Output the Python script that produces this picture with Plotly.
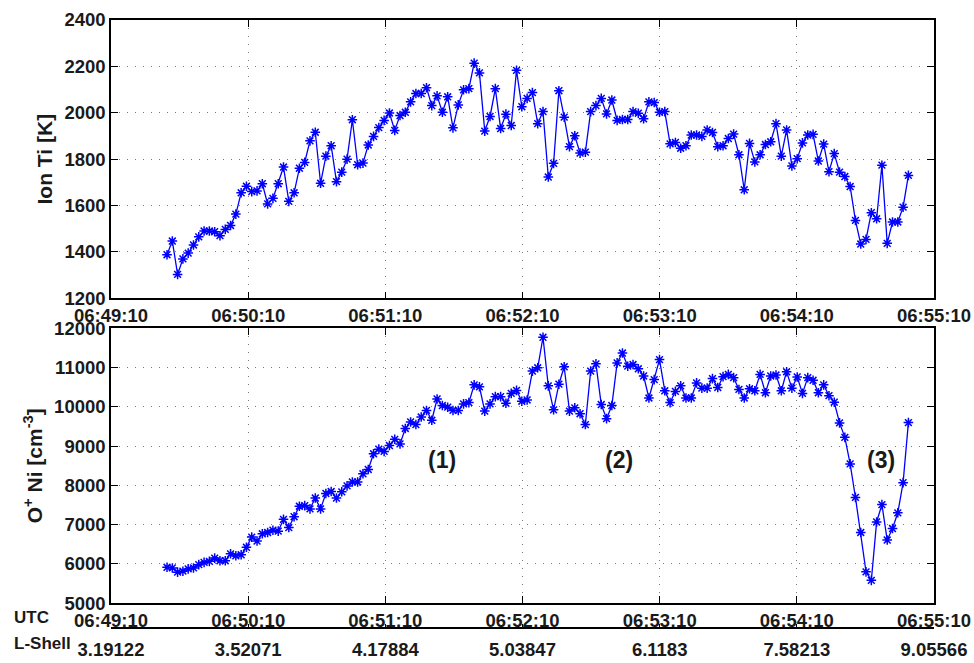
import plotly.graph_objects as go
import pandas as pd

# ---- data ----
ion_ti = [1388, 1447, 1303, 1370, 1395, 1430, 1465, 1490, 1490, 1487,
          1470, 1497, 1514, 1563, 1655, 1683, 1660, 1663, 1694, 1607,
          1631, 1694, 1766, 1618, 1655, 1761, 1786, 1879, 1916, 1696,
          1813, 1858, 1703, 1744, 1800, 1970, 1776, 1783, 1861, 1898,
          1936, 1967, 1999, 1924, 1988, 2002, 2047, 2083, 2083, 2108,
          2031, 2073, 2002, 2069, 1935, 2034, 2099, 2104, 2214, 2172,
          1921, 1984, 2104, 1932, 1994, 1945, 2183, 2026, 2062, 2087,
          1953, 2005, 1723, 1782, 2095, 1981, 1854, 1901, 1826, 1830,
          2005, 2031, 2062, 1995, 2055, 1967, 1971, 1971, 2005, 1998,
          1974, 2047, 2044, 2002, 2005, 1866, 1872, 1847, 1858, 1904,
          1904, 1898, 1926, 1915, 1854, 1858, 1889, 1908, 1819, 1668,
          1868, 1788, 1819, 1863, 1875, 1953, 1813, 1926, 1771, 1802,
          1870, 1904, 1907, 1792, 1865, 1746, 1824, 1744, 1725, 1682,
          1536, 1434, 1454, 1569, 1543, 1774, 1437, 1529, 1529, 1593,
          1730]

o_ni = [5913, 5896, 5788, 5813, 5871, 5896, 5980, 6038, 6064, 6147,
        6080, 6080, 6256, 6206, 6231, 6423, 6682, 6582, 6766, 6799,
        6858, 6833, 7134, 6925, 7201, 7468, 7485, 7401, 7677, 7401,
        7794, 7844, 7677, 7836, 7987, 8087, 8087, 8296, 8405, 8806,
        8923, 8865, 9015, 9174, 9057, 9450, 9617, 9550, 9742, 9910,
        9659, 10202, 10035, 9993, 9910, 9910, 10077, 10110, 10562, 10512,
        9893, 10077, 10261, 10261, 10094, 10344, 10420, 10144, 10177, 10913,
        10997, 11774, 10537, 9926, 10579, 11022, 9893, 9977, 9826, 9550,
        10913, 11097, 10060, 9701, 10035, 11122, 11373, 11038, 11080, 10972,
        10788, 10227, 10696, 11206, 10411, 10110, 10395, 10537, 10227, 10227,
        10612, 10478, 10478, 10721, 10495, 10771, 10829, 10746, 10445, 10227,
        10462, 10411, 10829, 10361, 10788, 10813, 10411, 10896, 10478, 10763,
        10344, 10746, 10679, 10361, 10562, 10286, 10119, 9592, 9224, 8547,
        7694, 6799, 5796, 5579, 7067, 7510, 6607, 6900, 7301, 8070,
        9600]

day = "2000-01-01 "
t_first = day + "06:49:34.5"
t_last = day + "06:54:58.8"
times = pd.date_range(t_first, t_last, periods=len(ion_ti))

utc_ticks = ["06:49:10", "06:50:10", "06:51:10", "06:52:10",
             "06:53:10", "06:54:10", "06:55:10"]
lshell_ticks = ["3.19122", "3.52071", "4.17884", "5.03847",
                "6.1183", "7.58213", "9.05566"]
ti_ticks = [1200, 1400, 1600, 1800, 2000, 2200, 2400]
ni_ticks = [5000, 6000, 7000, 8000, 9000, 10000, 11000, 12000]
region_labels = ["(1)", "(2)", "(3)"]
region_times = ["06:51:35", "06:52:52", "06:54:47"]
region_value = 8650

tick_dates = [day + t for t in utc_ticks]
x_range = [day + utc_ticks[0], day + utc_ticks[-1]]

FONT = "Liberation Sans"
BLUE = "#0000ff"
INK = "#1a1a1a"
tickfont = dict(family=FONT, size=18.5, color=INK, weight="bold")

fig = go.Figure()
line_style = dict(color=BLUE, width=1.3)
marker_style = dict(symbol="asterisk-open", size=8,
                    line=dict(color=BLUE, width=1.5), color=BLUE)

fig.add_trace(go.Scatter(x=times, y=ion_ti, mode="lines+markers",
                         line=line_style, marker=marker_style,
                         xaxis="x", yaxis="y", showlegend=False))
fig.add_trace(go.Scatter(x=times, y=o_ni, mode="lines+markers",
                         line=line_style, marker=marker_style,
                         xaxis="x2", yaxis="y2", showlegend=False))
# invisible copy on the L-Shell axis so that this free axis is drawn
fig.add_trace(go.Scatter(x=times, y=o_ni, mode="none", xaxis="x3",
                         yaxis="y2", showlegend=False, hoverinfo="skip"))

common_x = dict(type="date", range=x_range, tickvals=tick_dates,
                ticktext=utc_ticks, ticks="inside", ticklen=7,
                tickcolor="black", tickwidth=1, showline=True,
                linecolor="black", linewidth=1.5, mirror="ticks",
                showgrid=True, gridcolor="#7a7a7a", gridwidth=1,
                griddash="1px,7px", zeroline=False, tickfont=tickfont)
common_y = dict(ticks="inside", ticklen=7, tickcolor="black", tickwidth=1,
                showline=True, linecolor="black", linewidth=1.5,
                mirror="ticks", showgrid=True, gridcolor="#7a7a7a",
                gridwidth=1, griddash="1px,7px", zeroline=False,
                tickformat="d", tickfont=tickfont)

H = 663
T = 20
B = 0
ph = H - T - B


def py(pix):
    return (H - B - pix) / ph


titlefont = dict(family=FONT, size=21, color=INK, weight="bold")
lshell_line_y = py(637.3)

fig.update_layout(
    width=974, height=H,
    margin=dict(l=111, r=40, t=T, b=B),
    paper_bgcolor="white", plot_bgcolor="white",
    xaxis=dict(common_x, domain=[0, 1], anchor="y"),
    yaxis=dict(common_y, domain=[py(302.7), py(20)], range=[1200, 2400],
               tickvals=ti_ticks, anchor="x",
               title=dict(text="Ion Ti [K]", font=titlefont, standoff=6)),
    xaxis2=dict(common_x, domain=[0, 1], anchor="y2"),
    yaxis2=dict(common_y, domain=[py(612.3), py(333.3)], range=[5000, 12000],
                tickvals=ni_ticks, anchor="x2",
                title=dict(text="O<sup>+</sup> Ni [cm<sup>-3</sup>]",
                           font=titlefont, standoff=6)),
    xaxis3=dict(type="date", range=x_range, tickvals=tick_dates,
                ticktext=lshell_ticks, ticks="inside", ticklen=4,
                tickcolor="black", tickwidth=1.2, showline=True,
                linecolor="black", linewidth=1.3, showgrid=False,
                zeroline=False, ticklabelstandoff=5,
                overlaying="x2", anchor="free", position=lshell_line_y,
                side="bottom", tickfont=tickfont),
)

# baseline of the L-Shell axis
fig.add_shape(type="line", xref="paper", yref="paper", x0=0, x1=1,
              y0=lshell_line_y, y1=lshell_line_y,
              line=dict(color="black", width=1.3))

for lab, t in zip(region_labels, region_times):
    fig.add_annotation(x=day + t, y=region_value, xref="x2", yref="y2",
                       text=lab, showarrow=False,
                       font=dict(family=FONT, size=23, color=INK,
                                 weight="bold"))

side_font = dict(family=FONT, size=17, color=INK, weight="bold")
fig.add_annotation(x=0, xref="paper", xshift=-99, xanchor="left",
                   y=py(626.5), yref="paper", yanchor="middle",
                   text="UTC", showarrow=False, font=side_font)
fig.add_annotation(x=0, xref="paper", xshift=-99, xanchor="left",
                   y=py(653), yref="paper", yanchor="middle",
                   text="L-Shell", showarrow=False, font=side_font)

fig.write_html("out.html", config={"displayModeBar": False},
               post_script="document.body.style.margin='0';")
